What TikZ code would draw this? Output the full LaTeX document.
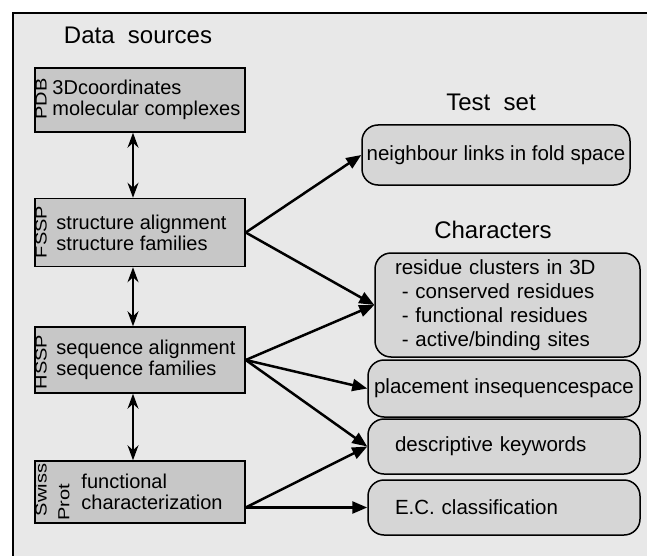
\documentclass[tikz,border=0pt]{standalone}
\usepackage{fontspec}
\setmainfont{Liberation Sans}
\usetikzlibrary{arrows.meta,positioning}

\tikzset{
  srcbox/.style={draw,line width=1.5pt,fill=black!22,minimum width=210pt,minimum height=64pt,inner sep=0pt},
  srctext/.style={anchor=west,align=left,inner sep=0pt,font=\fontsize{20}{21}\selectfont},
  dbname/.style={rotate=90,xscale=1.25,inner sep=0pt,font=\fontsize{16}{16}\selectfont},
  charbox/.style={draw,line width=1.5pt,rounded corners=16pt,fill=black!16,minimum width=272pt,minimum height=55pt,inner sep=0pt,font=\fontsize{20.5}{24}\selectfont},
  heading/.style={inner sep=0pt,font=\fontsize{24}{24}\selectfont},
  link/.style={line width=2.5pt,->},
  xref/.style={line width=1.3pt,{Stealth[length=15pt,width=11pt]}-{Stealth[length=15pt,width=11pt]}}
}

\begin{document}
\begin{tikzpicture}[x=1pt,y=-1pt,>={Triangle[length=15pt,width=12pt]}]
  \useasboundingbox (0,0) rectangle (647,556);
  % frame
  \fill[black!9] (13,13) rectangle (647,556);
  \draw[line width=2pt] (13,556) -- (13,13) -- (647,13);

  % data sources
  \node[heading] (srctitle) at (138,35) {Data\ \ sources};
  \node[srcbox] (pdb) at (140,100) {};
  \node[srcbox,minimum height=68pt] (fssp) at (140,232.5) {};
  \node[srcbox,minimum height=66pt] (hssp) at (140,360) {};
  \node[srcbox,minimum height=62pt] (swiss) at (140,492) {};

  \node[dbname] (pdbname) at (41,99) {PDB};
  \node[dbname] (fsspname) at (41,232) {FSSP};
  \node[dbname] (hsspname) at (41,362) {HSSP};
  \node[dbname] (swissname) at (41,490) {Swiss};
  \node[dbname] (protname) at (64,502) {Prot};

  \node[srctext] (pdbtxt) at ([xshift=18pt]pdb.west) {3Dcoordinates\\molecular complexes};
  \node[srctext] (fssptxt) at ([xshift=22pt]fssp.west) {structure alignment\\structure families};
  \node[srctext] (hssptxt) at ([xshift=22pt]hssp.west) {sequence alignment\\sequence families};
  \node[srctext] (swisstxt) at ([xshift=47pt]swiss.west) {functional\\characterization};

  \foreach \a/\b in {pdb/fssp,fssp/hssp,hssp/swiss}
    \draw[xref] ([xshift=-7pt]\a.south) -- ([xshift=-7pt]\b.north);

  % test set and characters
  \node[heading] (testtitle) at (491,102) {Test\ \ set};
  \node[charbox,minimum width=268pt,minimum height=60pt] (nbr) at (496,155) {neighbour links in fold space};
  \node[heading] (chartitle) at (493,230) {Characters};
  \node[charbox,minimum width=265pt,minimum height=104pt,text width=225pt,align=left] (res) at (507.5,305)
    {residue clusters in 3D\\\ - conserved residues\\\ - functional residues\\\ - active/binding sites};
  \node[charbox,minimum height=57pt] (seqspace) at (504,388.5) {placement insequencespace};
  \node[charbox,text width=218pt,align=left] (keywords) at (504,446.5) {descriptive keywords};
  \node[charbox,text width=218pt,align=left] (ec) at (504,507.5) {E.C.\ classification};

  \coordinate (swissout) at (ec.west -| swiss.east);
  \foreach \a/\b in {fssp.east/nbr.west,fssp.east/res.west,hssp.east/res.west,hssp.east/seqspace.west,hssp.east/keywords.west,swissout/keywords.west,swissout/ec.west}
    \draw[link] (\a) -- (\b);
\end{tikzpicture}
\end{document}
